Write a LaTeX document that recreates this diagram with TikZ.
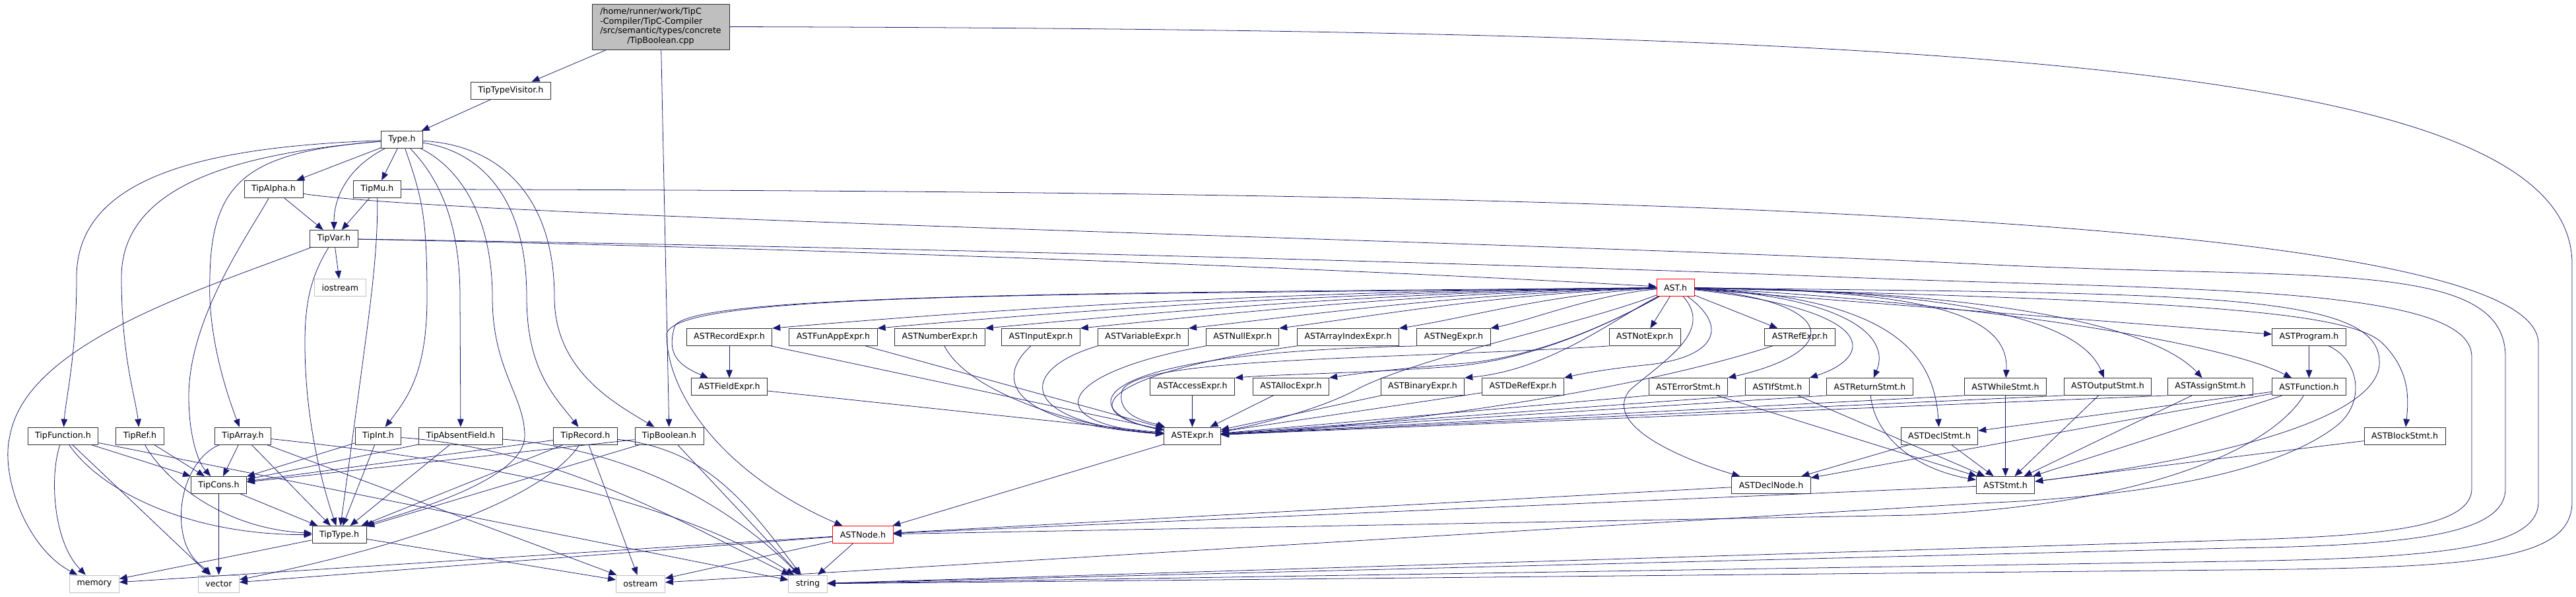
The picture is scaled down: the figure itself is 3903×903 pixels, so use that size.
\documentclass[tikz,border=0pt]{standalone}
\usepackage{fontspec}
\setmainfont{DejaVu Sans}
\usetikzlibrary{arrows.meta, positioning}
\definecolor{edgeblue}{RGB}{25,25,112}
\definecolor{boxline}{RGB}{48,48,48}
\definecolor{extline}{RGB}{191,191,191}
\definecolor{rootfill}{RGB}{191,191,191}
\newcommand{\hfont}{\fontsize{9}{10.6}\selectfont}

\begin{document}
\begin{tikzpicture}[
    x=0.25mm, y=-0.25mm,
    >={Triangle[length=3.0mm, width=2.4mm]},
    hdr/.style={draw=boxline, fill=white, line width=0.6pt, font=\hfont,
                minimum height=6.5mm, inner xsep=2.75mm, inner ysep=0pt},
    extbox/.style={hdr, draw=extline},
    trunc/.style={hdr, draw=red},
    rootbox/.style={hdr, fill=rootfill, minimum width=52mm, minimum height=17.25mm},
    dep/.style={->, draw=edgeblue, line width=0.55pt},
]
\useasboundingbox (0,0) rectangle (3903,903);
% === Type headers (left part) ===
\node[rootbox] (root) at (1001,40.5) {\begin{tabular}{@{}l@{}}/home/runner/work/TipC\\-Compiler/TipC-Compiler\\/src/semantic/types/concrete\\\multicolumn{1}{@{}c@{}}{/TipBoolean.cpp}\end{tabular}};
\node[hdr] (ttv) at (774,137) {TipTypeVisitor.h};
\node[hdr] (type) at (609,211.5) {Type.h};
\node[hdr] (talpha) at (414.5,286.5) {TipAlpha.h};
\node[hdr] (tmu) at (571.5,286.5) {TipMu.h};
\node[hdr] (tvar) at (506,361.5) {TipVar.h};
\node[extbox] (iostr) at (515.5,435.5) {iostream};
\node[hdr] (tfunc) at (95.5,660) {TipFunction.h};
\node[hdr] (tref) at (212,660) {TipRef.h};
\node[hdr] (tarray) at (368,660) {TipArray.h};
\node[hdr] (tint) at (573,660) {TipInt.h};
\node[hdr] (tabsent) at (698,660) {TipAbsentField.h};
\node[hdr] (trecord) at (887,660) {TipRecord.h};
\node[hdr] (tbool) at (1014,660) {TipBoolean.h};
\node[hdr] (tcons) at (331.5,734.5) {TipCons.h};
\node[hdr] (ttype) at (514,809.5) {TipType.h};
% === AST headers ===
\node[trunc] (ast) at (2538.5,435.5) {AST.h};
\node[hdr] (recexpr) at (1105,510.5) {ASTRecordExpr.h};
\node[hdr] (funapp) at (1262.5,510.5) {ASTFunAppExpr.h};
\node[hdr] (numexpr) at (1424,510.5) {ASTNumberExpr.h};
\node[hdr] (inexpr) at (1577,510.5) {ASTInputExpr.h};
\node[hdr] (varexpr) at (1732,510.5) {ASTVariableExpr.h};
\node[hdr] (nullexpr) at (1882.5,510.5) {ASTNullExpr.h};
\node[hdr] (arrexpr) at (2042.5,510.5) {ASTArrayIndexExpr.h};
\node[hdr] (negexpr) at (2202.5,510.5) {ASTNegExpr.h};
\node[hdr] (notexpr) at (2492,510.5) {ASTNotExpr.h};
\node[hdr] (refexpr) at (2727,510.5) {ASTRefExpr.h};
\node[hdr] (program) at (3498.5,510.5) {ASTProgram.h};
\node[hdr, below=12.125mm of recexpr] (fieldexpr) {ASTFieldExpr.h};
\node[hdr] (accexpr) at (1806.5,585.5) {ASTAccessExpr.h};
\node[hdr] (allocexpr) at (1956,585.5) {ASTAllocExpr.h};
\node[hdr] (binexpr) at (2155.5,585.5) {ASTBinaryExpr.h};
\node[hdr] (derefexpr) at (2307.5,585.5) {ASTDeRefExpr.h};
\node[hdr] (errstmt) at (2558,585.5) {ASTErrorStmt.h};
\node[hdr] (ifstmt) at (2693,585.5) {ASTIfStmt.h};
\node[hdr] (retstmt) at (2833,585.5) {ASTReturnStmt.h};
\node[hdr] (whilestmt) at (3038.5,585.5) {ASTWhileStmt.h};
\node[hdr] (outstmt) at (3193.5,585.5) {ASTOutputStmt.h};
\node[hdr] (asgstmt) at (3349,585.5) {ASTAssignStmt.h};
\node[hdr, below=12.125mm of program] (function) {ASTFunction.h};
\node[hdr] (expr) at (1806.5,660) {ASTExpr.h};
\node[hdr] (declstmt) at (2938.5,660) {ASTDeclStmt.h};
\node[hdr] (blockstmt) at (3643.5,660) {ASTBlockStmt.h};
\node[hdr] (declnode) at (2683.5,734.5) {ASTDeclNode.h};
\node[hdr] (stmt) at (3038.5,734.5) {ASTStmt.h};
\node[trunc] (astnode) at (1307.5,809.5) {ASTNode.h};
% === System headers ===
\node[extbox] (memory) at (143,884) {memory};
\node[extbox] (vector) at (331.5,884) {vector};
\node[extbox] (ostr) at (970.5,884) {ostream};
\node[extbox] (string) at (1224,884) {string};
% === Root ===
\draw[dep] (root) -- (ttv);
\draw[dep] (root) -- (tbool);
\draw[dep] (root.east) .. controls (3000,45) and (3897,100) .. (3897,400) -- (3897,760) .. controls (3897,850) and (3750,860) .. (3380,863) -- (string);
\draw[dep] (ttv) -- (type);
% === Type.h ===
\draw[dep] (type) -- (talpha);
\draw[dep] (type) -- (tmu);
\draw[dep] (type) .. controls (525,255) and (506,300) .. (tvar);
\draw[dep] (type) .. controls (330,222) and (116,260) .. (116,420) .. controls (116,540) and (100,600) .. (tfunc);
\draw[dep] (type) .. controls (360,232) and (184,280) .. (184,420) .. controls (184,540) and (205,600) .. (tref);
\draw[dep] (type) .. controls (380,230) and (320,270) .. (318,420) .. controls (314,510) and (345,600) .. (tarray);
\draw[dep] (type) .. controls (640,300) and (647,330) .. (647,450) .. controls (647,560) and (620,600) .. (tint);
\draw[dep] (type) .. controls (655,260) and (697,320) .. (697,450) -- (tabsent);
\draw[dep] (type) .. controls (690,250) and (746,320) .. (746,450) .. controls (746,560) and (795,600) .. (795,660) .. controls (795,730) and (600,780) .. (ttype);
\draw[dep] (type) .. controls (720,228) and (798,290) .. (798,450) .. controls (798,560) and (840,600) .. (trecord);
\draw[dep] (type) .. controls (760,220) and (840,300) .. (840,450) .. controls (840,560) and (930,610) .. (tbool);
% === TipAlpha, TipMu, TipVar ===
\draw[dep] (talpha) -- (tvar);
\draw[dep] (talpha) .. controls (380,350) and (286,480) .. (286,600) .. controls (286,660) and (300,700) .. (tcons);
\draw[dep] (talpha) .. controls (700,330) and (2300,365) .. (3000,400) .. controls (3500,425) and (3796,390) .. (3796,540) -- (3796,740) .. controls (3796,810) and (3650,826) .. (3380,830) -- (string);
\draw[dep] (tmu) -- (tvar);
\draw[dep] (tmu) .. controls (573,380) and (560,470) .. (548,560) .. controls (536,650) and (525,730) .. (ttype);
\draw[dep] (tmu) .. controls (2000,290) and (3846,300) .. (3846,520) -- (3846,760) .. controls (3846,830) and (3700,845) .. (3380,850) -- (string);
\draw[dep] (tvar) -- (iostr);
\draw[dep] (tvar) .. controls (470,420) and (462,460) .. (462,520) .. controls (462,640) and (490,740) .. (ttype);
\draw[dep] (tvar) .. controls (300,440) and (40,520) .. (15,660) .. controls (0,720) and (40,830) .. (memory);
\draw[dep] (tvar) .. controls (1200,375) and (2000,405) .. (ast);
\draw[dep] (tvar) .. controls (1400,375) and (2300,400) .. (2800,420) .. controls (3300,440) and (3745,430) .. (3745,540) -- (3745,740) .. controls (3745,800) and (3600,812) .. (3380,818) -- (string);
% === Tip types ===
\draw[dep] (tfunc) .. controls (75,720) and (80,820) .. (memory);
\draw[dep] (tfunc) -- (vector);
\draw[dep] (tfunc) -- (tcons);
\draw[dep] (tfunc) .. controls (150,740) and (280,810) .. (ttype);
\draw[dep] (tfunc) -- (string);
\draw[dep] (tref) -- (tcons);
\draw[dep] (tref) .. controls (245,720) and (330,800) .. (ttype);
\draw[dep] (tarray) .. controls (290,690) and (262,760) .. (280,820) .. controls (290,850) and (310,860) .. (vector);
\draw[dep] (tarray) -- (tcons);
\draw[dep] (tarray) -- (ttype);
\draw[dep] (tarray) -- (ostr);
\draw[dep] (tarray) .. controls (650,690) and (1000,740) .. (string);
\draw[dep] (tint) -- (tcons);
\draw[dep] (tint) -- (ttype);
\draw[dep] (tint) .. controls (850,680) and (1050,800) .. (string);
\draw[dep] (tabsent) -- (tcons);
\draw[dep] (tabsent) -- (ttype);
\draw[dep] (tabsent) .. controls (950,680) and (1100,760) .. (string);
\draw[dep] (trecord) -- (tcons);
\draw[dep] (trecord) -- (ttype);
\draw[dep] (trecord) .. controls (820,760) and (600,830) .. (vector);
\draw[dep] (trecord) -- (ostr);
\draw[dep] (trecord) .. controls (1070,680) and (1130,760) .. (string);
\draw[dep] (tbool) -- (tcons);
\draw[dep] (tbool) -- (ttype);
\draw[dep] (tbool) -- (string);
\draw[dep] (tcons) -- (vector);
\draw[dep] (tcons) -- (ttype);
\draw[dep] (ttype) -- (memory);
\draw[dep] (ttype) -- (ostr);
% === AST.h fan-out ===
\draw[dep] (ast) .. controls +(-600,5) and +(350,-30) .. (recexpr.north east);
\draw[dep] (ast) .. controls +(-520,6) and +(300,-27) .. (funapp.north east);
\draw[dep] (ast) .. controls +(-440,6) and +(260,-24) .. (numexpr.north east);
\draw[dep] (ast) .. controls +(-380,7) and +(220,-22) .. (inexpr.north east);
\draw[dep] (ast) .. controls +(-320,8) and +(180,-20) .. (varexpr.north east);
\draw[dep] (ast) .. controls +(-260,8) and +(140,-18) .. (nullexpr.north east);
\draw[dep] (ast) .. controls +(-190,9) and +(100,-15) .. (arrexpr.north east);
\draw[dep] (ast) .. controls +(-120,10) and +(60,-12) .. (negexpr.north east);
\draw[dep] (ast) -- (notexpr);
\draw[dep] (ast) -- (refexpr);
\draw[dep] (ast) .. controls +(-880,8) and (1035,445) .. (1022,495) .. controls (1012,530) and (1020,550) .. (fieldexpr);
\draw[dep] (ast) .. controls +(-900,12) and (1030,440) .. (1010,505) .. controls (1010,600) and (1100,720) .. (astnode);
\draw[dep] (ast) .. controls (2430,495) and (2320,545) .. (2200,555) .. controls (2050,566) and (1950,566) .. (accexpr.north east);
\draw[dep] (ast) .. controls (2440,490) and (2330,540) .. (2220,550) .. controls (2120,558) and (2060,565) .. (allocexpr.north east);
\draw[dep] (ast) .. controls (2450,480) and (2350,560) .. (binexpr.north east);
\draw[dep] (ast) .. controls (2400,490) and (2150,540) .. (2055,590) .. controls (2000,620) and (1900,645) .. (expr);
\draw[dep] (ast) .. controls (2620,495) and (2600,540) .. (2500,552) .. controls (2440,558) and (2400,565) .. (derefexpr.north east);
\draw[dep] (ast) .. controls (2595,500) and (2530,540) .. (2470,590) .. controls (2420,650) and (2580,705) .. (declnode);
\draw[dep] (ast) .. controls (2780,455) and (2800,530) .. (errstmt.north east);
\draw[dep] (ast) .. controls (2850,470) and (2840,540) .. (ifstmt.north east);
\draw[dep] (ast) .. controls (2800,450) and (2865,510) .. (retstmt);
\draw[dep] (ast) .. controls (2860,450) and (2930,530) .. (declstmt);
\draw[dep] (ast) .. controls (2900,440) and (3045,470) .. (whilestmt);
\draw[dep] (ast) .. controls (2950,440) and (3150,480) .. (outstmt);
\draw[dep] (ast) .. controls (3000,440) and (3260,490) .. (asgstmt);
\draw[dep] (ast) .. controls (2900,450) and (3350,510) .. (function);
\draw[dep] (ast) -- (program);
\draw[dep] (ast) .. controls (3300,455) and (3560,470) .. (3610,520) .. controls (3650,560) and (3650,600) .. (blockstmt);
\draw[dep] (ast) .. controls (3300,445) and (3600,440) .. (3605,545) .. controls (3612,625) and (3400,690) .. (stmt);
% === Expressions ===
\draw[dep] (recexpr) -- (fieldexpr);
\draw[dep] (recexpr) -- (expr);
\draw[dep] (fieldexpr) -- (expr);
\draw[dep] (funapp) -- (expr);
\draw[dep] (numexpr) .. controls (1470,600) and (1650,650) .. (expr);
\draw[dep] (inexpr) .. controls (1510,570) and (1520,640) .. (expr);
\draw[dep] (varexpr.south west) .. controls (1540,560) and (1540,640) .. (expr);
\draw[dep] (nullexpr.south west) .. controls (1600,565) and (1570,640) .. (expr);
\draw[dep] (arrexpr.south west) .. controls (1700,560) and (1610,620) .. (expr);
\draw[dep] (negexpr.south west) .. controls (1620,535) and (1630,625) .. (expr);
\draw[dep] (notexpr.south west) .. controls (2100,545) and (1720,540) .. (1700,592) .. controls (1690,632) and (1745,640) .. (expr);
\draw[dep] (refexpr) .. controls (2450,600) and (2050,650) .. (expr);
\draw[dep] (accexpr) -- (expr);
\draw[dep] (allocexpr) -- (expr);
\draw[dep] (binexpr) -- (expr);
\draw[dep] (derefexpr) -- (expr);
% === Statements ===
\draw[dep] (errstmt.south west) -- (expr);
\draw[dep] (ifstmt.south west) -- (expr);
\draw[dep] (retstmt.south west) -- (expr);
\draw[dep] (whilestmt.south west) -- (expr);
\draw[dep] (outstmt.south west) -- (expr);
\draw[dep] (asgstmt.south west) -- (expr);
\draw[dep] (errstmt) -- (stmt);
\draw[dep] (ifstmt) -- (stmt);
\draw[dep] (retstmt) .. controls (2840,660) and (2900,710) .. (stmt);
\draw[dep] (whilestmt) -- (stmt);
\draw[dep] (outstmt) -- (stmt);
\draw[dep] (asgstmt) -- (stmt);
\draw[dep] (declstmt) -- (stmt);
\draw[dep] (declstmt) -- (declnode);
\draw[dep] (blockstmt) -- (stmt);
\draw[dep] (function) -- (stmt);
\draw[dep] (function) -- (declstmt);
\draw[dep] (function) -- (declnode);
\draw[dep] (function) .. controls (3440,680) and (3250,765) .. (2900,780) -- (astnode);
\draw[dep] (program) -- (function);
\draw[dep] (program) .. controls (3575,545) and (3585,610) .. (3540,645) .. controls (3450,715) and (3250,752) .. (3000,762) -- (ostr);
% === ASTNode ===
\draw[dep] (expr) -- (astnode);
\draw[dep] (stmt) -- (astnode);
\draw[dep] (declnode) -- (astnode);
\draw[dep] (astnode) -- (memory);
\draw[dep] (astnode) -- (vector);
\draw[dep] (astnode) -- (ostr);
\draw[dep] (astnode) -- (string);
\end{tikzpicture}
\end{document}
